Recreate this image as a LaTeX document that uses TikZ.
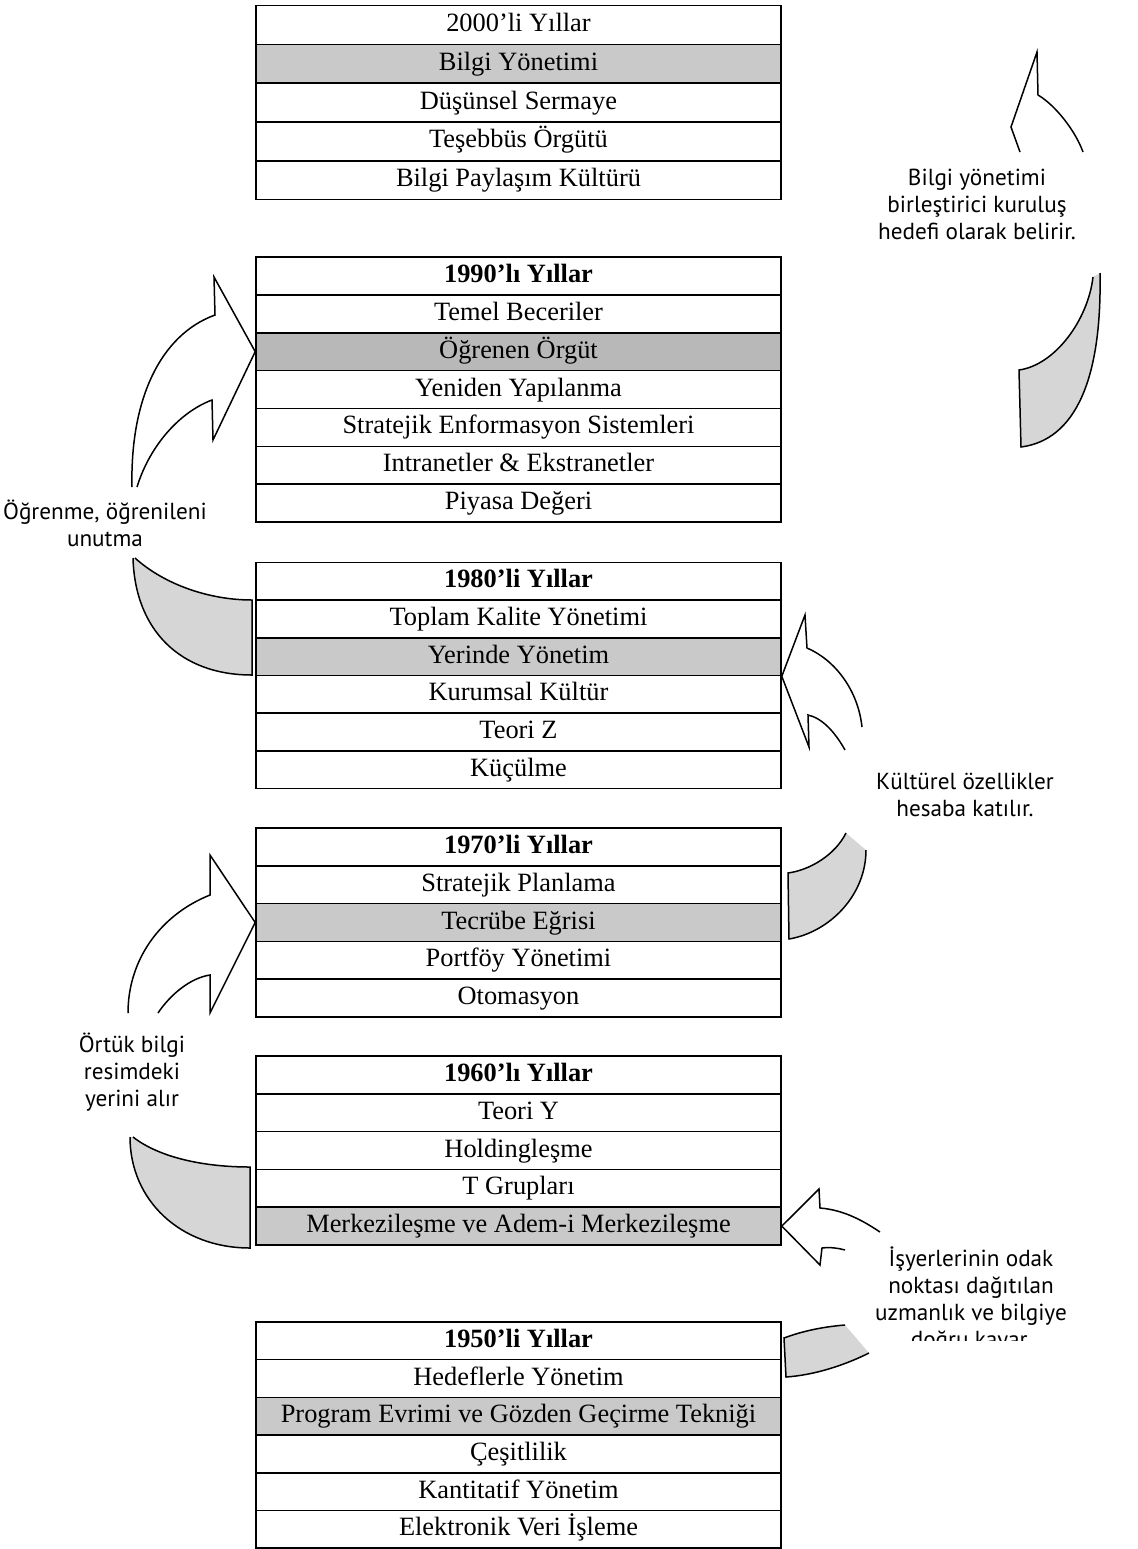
\documentclass[tikz,border=0pt]{standalone}
\usepackage{fontspec}
\setmainfont{Liberation Serif}
\newfontfamily\notefont{PT Sans}
\definecolor{rowshade}{gray}{0.79}
\definecolor{rowdark}{gray}{0.72}
\definecolor{tailshade}{gray}{0.84}
\tikzset{
  cell/.style={draw, line width=0.8pt, minimum width=262.5pt, minimum height=#1,
    inner sep=0pt, text height=0.78em, text depth=0.12em,
    font=\fontsize{13.2}{15}\selectfont},
  plain/.style={},
  head/.style={font=\fontsize{13.2}{15}\selectfont\bfseries},
  shadeA/.style={fill=rowshade},
  shadeB/.style={fill=rowdark},
  note/.style={inner sep=0pt, align=center, font=\notefont\fontsize{11.6}{13.5}\selectfont},
  ribbon/.style={draw, line width=0.75pt, line join=miter},
  tail/.style={draw, line width=0.75pt, fill=tailshade, line join=miter}
}
\begin{document}
\begin{tikzpicture}[x=0.5pt, y=-0.5pt]
\useasboundingbox (0,0) rectangle (1138,1549);

% decade tables
\foreach \txt/\st [count=\i] in {2000’li Yıllar/plain, Bilgi Yönetimi/shadeA,
    Düşünsel Sermaye/plain, Teşebbüs Örgütü/plain, Bilgi Paylaşım Kültürü/plain}
  \node[cell=19.4pt, \st] (k2000-\i) at (518.5, {5.5+(\i-0.5)*38.8}) {\txt};

\foreach \txt/\st [count=\i] in {1990’lı Yıllar/head, Temel Beceriler/plain,
    Öğrenen Örgüt/shadeB, Yeniden Yapılanma/plain, Stratejik Enformasyon Sistemleri/plain,
    Intranetler \& Ekstranetler/plain, Piyasa Değeri/plain}
  \node[cell=18.93pt, \st] (k1990-\i) at (518.5, {257+(\i-0.5)*37.86}) {\txt};

\foreach \txt/\st [count=\i] in {1980’li Yıllar/head, Toplam Kalite Yönetimi/plain,
    Yerinde Yönetim/shadeA, Kurumsal Kültür/plain, Teori Z/plain, Küçülme/plain}
  \node[cell=18.83pt, \st] (k1980-\i) at (518.5, {562.5+(\i-0.5)*37.67}) {\txt};

\foreach \txt/\st [count=\i] in {1970’li Yıllar/head, Stratejik Planlama/plain,
    Tecrübe Eğrisi/shadeA, Portföy Yönetimi/plain, Otomasyon/plain}
  \node[cell=18.9pt, \st] (k1970-\i) at (518.5, {828+(\i-0.5)*37.8}) {\txt};

\foreach \txt/\st [count=\i] in {1960’lı Yıllar/head, Teori Y/plain, Holdingleşme/plain,
    T Grupları/plain, Merkezileşme ve Adem-i Merkezileşme/shadeA}
  \node[cell=18.9pt, \st] (k1960-\i) at (518.5, {1056+(\i-0.5)*37.8}) {\txt};

\foreach \txt/\st [count=\i] in {1950’li Yıllar/head, Hedeflerle Yönetim/plain,
    Program Evrimi ve Gözden Geçirme Tekniği/shadeA, Çeşitlilik/plain,
    Kantitatif Yönetim/plain, Elektronik Veri İşleme/plain}
  \node[cell=18.83pt, \st] (k1950-\i) at (518.5, {1322+(\i-0.5)*37.67}) {\txt};

% notes beside the curved arrows
\node[note] (n2000) at (977,204) {Bilgi yönetimi\\birleştirici kuruluş\\hedefi olarak belirir.};
\node[note] (n1990) at (105,523) {Öğrenme, öğrenileni\\unutma};
\node[note] (n1980) at (965,795) {Kültürel özellikler\\hesaba katılır.};
\node[note] (n1970) at (132,1072) {Örtük bilgi\\resimdeki\\yerini alır};
\begin{scope}
  \clip (800,1200) rectangle (1138,1340);
  \node[note] (n1960) at (971,1300) {İşyerlerinin odak\\noktası dağıtılan\\uzmanlık ve bilgiye\\doğru kayar.};
\end{scope}

% curved arrow: 1980s -> 1990s (left)
\path[tail] (135,558) .. controls (165,585) and (210,600) .. (252,600)
  -- (252,675) .. controls (180,675) and (135,630) .. (133,558);
\path[ribbon] (137,487) .. controls (150,445) and (180,412) .. (212,400)
  -- (213,440) -- (k1990-3.west) -- (214,277) -- (215,315)
  .. controls (160,335) and (130,400) .. (132,487);

% curved arrow: 1990s -> 2000s (right)
\path[tail] (1093,277) .. controls (1088,320) and (1055,365) .. (1019,370)
  -- (1021,447) .. controls (1075,440) and (1102,380) .. (1100,273);
\path[ribbon] (1020,152) -- (1011,127) -- (1037,52) -- (1038,95)
  .. controls (1055,105) and (1075,130) .. (1083,152);

% curved arrow: 1970s -> 1980s (right)
\path[tail] (846,833) .. controls (835,855) and (810,870) .. (788,873)
  -- (789,939) .. controls (830,932) and (866,895) .. (866,850);
\path[ribbon] (845,750) .. controls (835,732) and (822,718) .. (808,715)
  -- (809,747) -- (k1980-3.south east) -- (805,615) -- (807,648)
  .. controls (835,660) and (858,690) .. (862,727);

% curved arrow: 1960s -> 1970s (left)
\path[tail] (133,1137) .. controls (160,1158) and (205,1167) .. (250,1167)
  -- (250,1248) .. controls (180,1248) and (130,1200) .. (130,1137);
\path[ribbon] (158,1013) .. controls (170,995) and (190,978) .. (210,975)
  -- (210,1013) -- (k1970-3.west) -- (210,855) -- (210,895)
  .. controls (160,915) and (128,960) .. (128,1013);

% curved arrow: 1950s -> 1960s (right)
\path[tail] (845,1325) .. controls (820,1327) and (800,1332) .. (784,1338)
  -- (786,1377) .. controls (815,1375) and (845,1365) .. (869,1353);
\path[ribbon] (845,1250) .. controls (838,1248) and (830,1247) .. (822,1248)
  -- (820,1265) -- (k1960-5.east) -- (819,1189) -- (820,1208)
  .. controls (845,1210) and (865,1222) .. (880,1232);
\end{tikzpicture}
\end{document}
